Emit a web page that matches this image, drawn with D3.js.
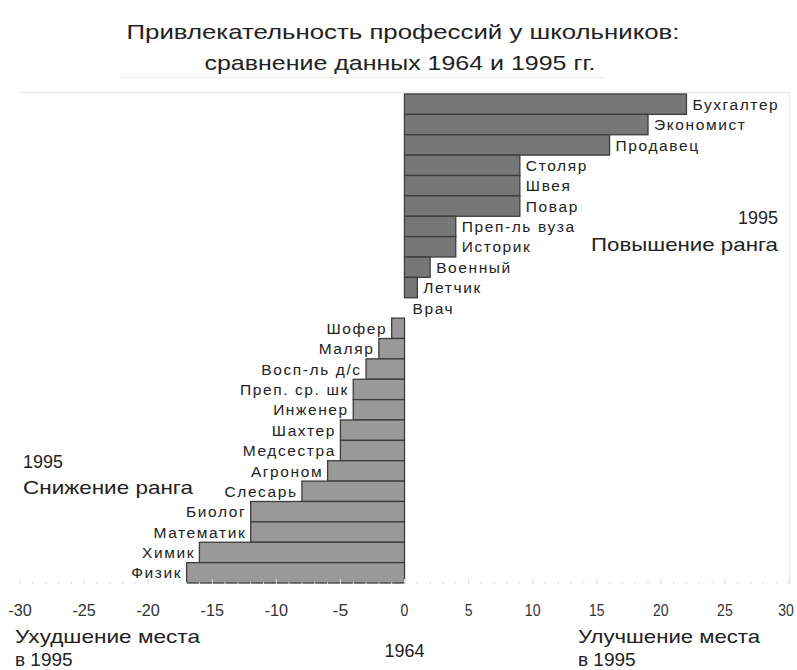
<!DOCTYPE html>
<html>
<head>
<meta charset="utf-8">
<script src="https://cdn.jsdelivr.net/npm/d3@7"></script>
<style>
  body { margin: 0; background: #fff; }
  svg { display: block; font-family: "Liberation Sans", Arial, sans-serif; }
</style>
</head>
<body>
<svg id="chart" width="797" height="670"></svg>
<script>
// ── Data ───────────────────────────────────────────────────
const professions = [
  'Бухгалтер', 'Экономист', 'Продавец', 'Столяр', 'Швея', 'Повар',
  'Преп-ль вуза', 'Историк', 'Военный', 'Летчик', 'Врач',
  'Шофер', 'Маляр', 'Восп-ль д/с', 'Преп. ср. шк', 'Инженер', 'Шахтер',
  'Медсестра', 'Агроном', 'Слесарь', 'Биолог', 'Математик', 'Химик', 'Физик'
];
const rankChange = [
  22, 19, 16, 9, 9, 9,
  4, 4, 2, 1, 0,
  -1, -2, -3, -4, -4, -5,
  -5, -6, -8, -12, -12, -16, -17
];
const xTicks = [-30, -25, -20, -15, -10, -5, 0, 5, 10, 15, 20, 25, 30];

const rows = professions.map((name, i) => ({ name, value: rankChange[i] }));

// ── Layout ─────────────────────────────────────────────────
const svg = d3.select('#chart');
const plotLeft = 20, plotRight = 789, plotTop = 94, plotBottom = 583;

const x = d3.scaleLinear().domain([-30, 30]).range([plotLeft, plotRight]);
const y = d3.scaleBand().domain(professions).range([plotTop, plotBottom]).padding(0);

// text helper: width fitted to the reference via textLength
const note = (txt, xx, yy, anchor, size, len) => {
  const t = svg.append('text')
    .attr('x', xx).attr('y', yy)
    .attr('text-anchor', anchor)
    .attr('font-size', size)
    .attr('fill', '#222')
    .text(txt);
  if (len) t.attr('textLength', len).attr('lengthAdjust', 'spacingAndGlyphs');
  return t;
};

// Title
note('Привлекательность профессий у школьников:', 403, 39, 'middle', 21, 553);
note('сравнение данных 1964 и 1995 гг.', 400, 70, 'middle', 21, 391);
svg.append('line')
  .attr('x1', 120).attr('x2', 604).attr('y1', 77.5).attr('y2', 77.5)
  .attr('stroke', '#eee');

// Faint plot frame (top and right)
svg.append('path')
  .attr('d', `M${plotLeft},${plotTop - 1.5}H${plotRight + 0.5}V${plotBottom}`)
  .attr('fill', 'none')
  .attr('stroke', '#ececec')
  .attr('stroke-width', 1.5);

// Bars
svg.append('g')
  .selectAll('rect')
  .data(rows.filter(d => d.value !== 0))
  .join('rect')
  .attr('x', d => x(Math.min(0, d.value)))
  .attr('y', d => y(d.name))
  .attr('width', d => Math.abs(x(d.value) - x(0)))
  .attr('height', y.bandwidth())
  .attr('fill', d => d.value > 0 ? '#777' : '#999')
  .attr('stroke', '#3c3c3c')
  .attr('stroke-width', 1.3);

// Bar labels
const spacing = 1.6;
svg.append('g')
  .selectAll('text')
  .data(rows)
  .join('text')
  .attr('x', d => d.value >= 0 ? x(d.value) + (d.value === 0 ? 8 : 6) : x(d.value) - 6 + spacing)
  .attr('y', d => y(d.name) + y.bandwidth() / 2)
  .attr('dy', '0.36em')
  .attr('text-anchor', d => d.value >= 0 ? 'start' : 'end')
  .attr('font-size', 15.5)
  .attr('letter-spacing', spacing)
  .attr('fill', '#222')
  .text(d => d.name);

// X axis: faint minor ticks, labels below
const axisY = plotBottom + 1;
svg.append('g')
  .selectAll('line')
  .data(d3.range(-30, 31))
  .join('line')
  .attr('x1', d => x(d)).attr('x2', d => x(d))
  .attr('y1', d => d % 5 === 0 ? axisY - 5 : axisY - 2)
  .attr('y2', axisY)
  .attr('stroke', '#ddd');

svg.append('g')
  .selectAll('text')
  .data(xTicks)
  .join('text')
  .attr('x', d => d === 30 ? x(d) - 3 : x(d))
  .attr('y', 616)
  .attr('text-anchor', 'middle')
  .attr('font-size', 17)
  .attr('fill', '#333')
  .attr('textLength', d => String(d).length * 7.8)
  .attr('lengthAdjust', 'spacingAndGlyphs')
  .text(d => d);

// Annotations
note('1995', 778, 224, 'end', 18.5, 40);
note('Повышение ранга', 778, 251, 'end', 18.5, 187);
note('1995', 23, 468, 'start', 18.5, 40);
note('Снижение ранга', 23, 494, 'start', 18.5, 170);

note('Ухудшение места', 15, 643, 'start', 19, 185);
note('в 1995', 15, 666, 'start', 19);
note('1964', x(0), 657, 'middle', 19, 40);
note('Улучшение места', 578, 643, 'start', 19, 182);
note('в 1995', 578, 666, 'start', 19);
</script>
</body>
</html>
